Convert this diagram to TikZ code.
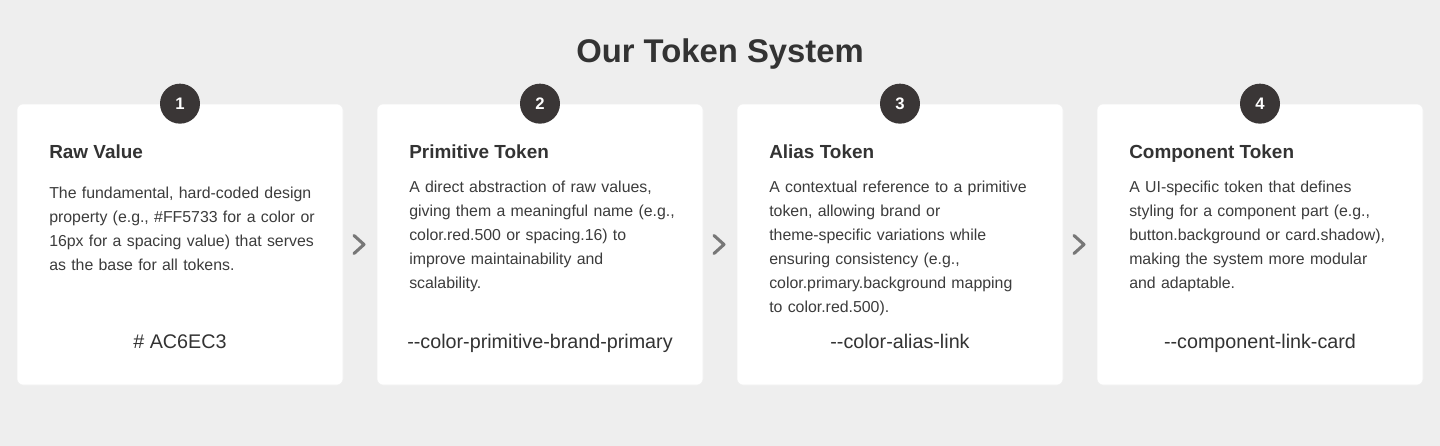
\documentclass[tikz,border=0pt]{standalone}
\usepackage{fontspec}
\setmainfont{Liberation Sans}
\usetikzlibrary{positioning,calc}

\definecolor{pagebg}{HTML}{EEEEEE}
\definecolor{inkdark}{HTML}{333333}
\definecolor{inkbody}{HTML}{3C3C3C}
\definecolor{badgefill}{HTML}{3A3636}
\definecolor{chevgray}{HTML}{777777}

\tikzset{
  card/.style={fill=white, draw=black!6, line width=0.5pt, rounded corners=4.5pt,
    minimum width=244.5pt, minimum height=210.75pt, inner sep=0pt},
  badge/.style={circle, fill=badgefill, minimum size=30pt, inner sep=0pt,
    text=white, font=\fontsize{12.5}{14}\selectfont\bfseries},
  cardhead/.style={anchor=base west, inner sep=0pt, text=inkdark,
    font=\fontsize{14.2}{17}\selectfont\bfseries},
  carddesc/.style={anchor=base west, inner sep=0pt, text=inkbody, text width=225pt,
    align=left, font=\fontsize{11.9}{18}\selectfont},
  cardcode/.style={anchor=base, inner sep=0pt, text=inkdark,
    font=\fontsize{14.8}{17}\selectfont},
  chevron/.style={draw=chevgray, line width=2.3pt, line join=round, line cap=round}
}

\begin{document}
\begin{tikzpicture}[x=0.75pt, y=-0.75pt]

        % Page background
        \fill[pagebg] (0,0) rectangle (1440,446);
        \useasboundingbox (0,0) rectangle (1440,446);

        % Title
        \node[text=inkdark, font=\fontsize{24.6}{29}\selectfont\bfseries, anchor=base] (title) at (720,62) {Our Token System};

        % Cards
        \node[card] (card1) at (180,244.5) {};
        \node[card] (card2) at (540,244.5) {};
        \node[card] (card3) at (900,244.5) {};
        \node[card] (card4) at (1260,244.5) {};

        % Step numbers
        \node[badge] (num1) at (card1.north) {1};
        \node[badge] (num2) at (card2.north) {2};
        \node[badge] (num3) at (card3.north) {3};
        \node[badge] (num4) at (card4.north) {4};

        % Card 1
        \node[cardhead] (head1) at (49,158) {Raw Value};
        \node[carddesc] (desc1) at (49,198) {The fundamental, hard-coded design\\ property (e.g., \#FF5733 for a color or\\ 16px for a spacing value) that serves\\ as the base for all tokens.};
        \node[cardcode] (code1) at (180,348) {\# AC6EC3};

        % Card 2
        \node[cardhead] (head2) at (409,158) {Primitive Token};
        \node[carddesc] (desc2) at (409,192) {A direct abstraction of raw values,\\ giving them a meaningful name (e.g.,\\ color.red.500 or spacing.16) to\\ improve maintainability and\\ scalability.};
        \node[cardcode] (code2) at (540,348) {-{}-color-primitive-brand-primary};

        % Card 3
        \node[cardhead] (head3) at (769,158) {Alias Token};
        \node[carddesc] (desc3) at (769,192) {A contextual reference to a primitive\\ token, allowing brand or\\ theme-specific variations while\\ ensuring consistency (e.g.,\\ color.primary.background mapping\\ to color.red.500).};
        \node[cardcode] (code3) at (900,348) {-{}-color-alias-link};

        % Card 4
        \node[cardhead] (head4) at (1129,158) {Component Token};
        \node[carddesc] (desc4) at (1129,192) {A UI-specific token that defines\\ styling for a component part (e.g.,\\ button.background or card.shadow),\\ making the system more modular\\ and adaptable.};
        \node[cardcode] (code4) at (1260,348) {-{}-component-link-card};

        % Chevrons between cards
        \draw[chevron] ($(card1.east)!0.5!(card2.west)$) ++(-6,-9) -- ++(10,9) -- ++(-10,9);
        \draw[chevron] ($(card2.east)!0.5!(card3.west)$) ++(-6,-9) -- ++(10,9) -- ++(-10,9);
        \draw[chevron] ($(card3.east)!0.5!(card4.west)$) ++(-6,-9) -- ++(10,9) -- ++(-10,9);

\end{tikzpicture}
\end{document}
